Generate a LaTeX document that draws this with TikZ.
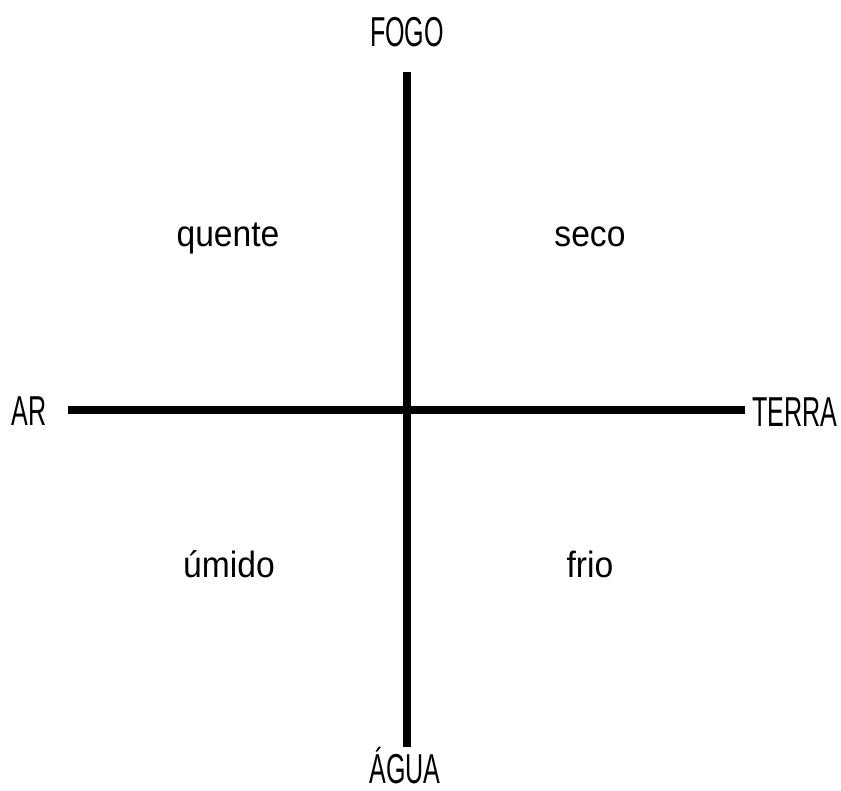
\documentclass[tikz,border=0pt]{standalone}
\usepackage{fontspec}
\setmainfont{Liberation Sans}
\usepackage{graphicx}
\usepackage{tikz}
\usetikzlibrary{positioning}
\newcommand{\bigword}[1]{\scalebox{0.6}[1]{#1}}
\newcommand{\smallword}[1]{\scalebox{0.92}[1]{#1}}

\begin{document}
\begin{tikzpicture}[
      axis/.style={line width=4.5pt, black},
      element/.style={anchor=base, inner sep=0pt, font=\fontsize{23.8}{26}\selectfont},
      quality/.style={anchor=base, inner sep=0pt, font=\fontsize{20.8}{24}\selectfont},
    ]
    \useasboundingbox (0,0) rectangle (16.82,-15.82);
    \coordinate (top) at (8.14,-1.44);
    \coordinate (bottom) at (8.14,-14.94);
    \coordinate (left) at (1.36,-8.2);
    \coordinate (right) at (14.9,-8.2);
    \draw[axis] (top) -- (bottom);
    \draw[axis] (left) -- (right);

    % Elements
    \node[element] (fogo) at (8.14,-0.94) {\bigword{FOGO}};
    \node[element] (agua) at (8.1,-15.66) {\bigword{ÁGUA}};
    \node[element] (ar) at (0.58,-8.5) {\bigword{AR}};
    \node[element] (terra) at (15.9,-8.52) {\bigword{TERRA}};

    % Qualities
    \node[quality] (quente) at (4.56,-4.94) {\smallword{quente}};
    \node[quality] (seco) at (11.8,-4.94) {\smallword{seco}};
    \node[quality] (umido) at (4.58,-11.54) {\smallword{úmido}};
    \node[quality] (frio) at (11.8,-11.54) {\smallword{frio}};
  \end{tikzpicture}
\end{document}
